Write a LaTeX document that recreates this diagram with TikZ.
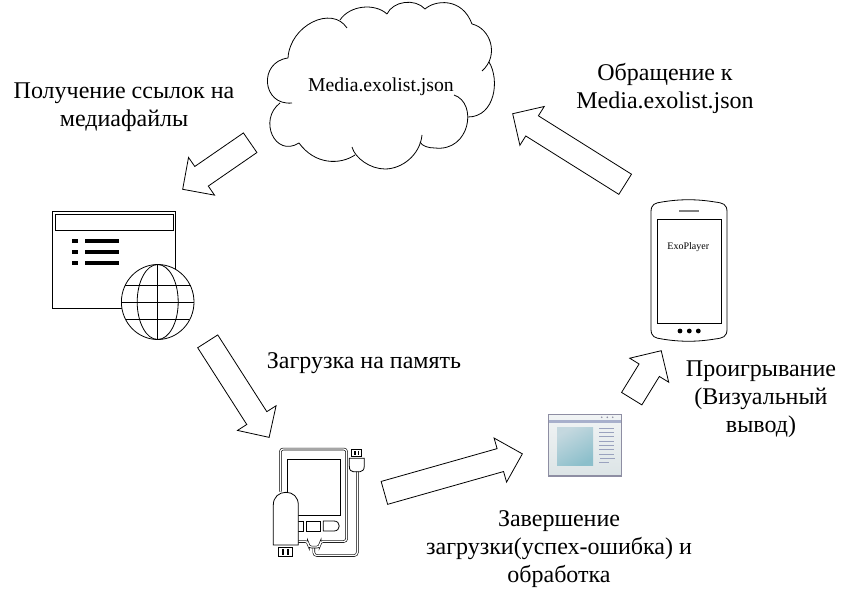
\documentclass[tikz,border=0pt]{standalone}
\usepackage{fontspec}
\setmainfont{Liberation Serif}
\usetikzlibrary{shapes.arrows}
\tikzset{
  blockarrow/.style={draw, fill=white, single arrow, single arrow head extend=11pt, single arrow tip angle=90,
    text height=23pt, text depth=0pt, text width=0pt, inner sep=0pt, anchor=tail, line width=0.8pt},
  caption/.style={align=center, font=\fontsize{24}{28}\selectfont, inner sep=0pt},
  thinline/.style={line width=0.8pt},
  driveline/.style={double, double distance=1.3pt, line width=0.6pt, rounded corners=3pt}
}
\definecolor{winborder}{HTML}{8E8EA3}
\definecolor{winbar}{HTML}{A8B0CC}
\definecolor{wintop}{HTML}{DCE4E6}
\definecolor{winrow}{HTML}{9AA2BE}
\definecolor{paneleft}{HTML}{C4D8DF}
\definecolor{paneright}{HTML}{8CBFCB}
\begin{document}
\begin{tikzpicture}[x=1pt,y=-1pt]
    \useasboundingbox (0,0) rectangle (848,601);

    \draw[thinline] (288,58) .. controls (290,25) and (332,5) .. (347,28);
    \draw[thinline] (340,20) .. controls (350,5) and (375,3) .. (387,14);
    \draw[thinline] (387,14) .. controls (393,1) and (415,-2) .. (425,9);
    \draw[thinline] (425,9) .. controls (435,0) and (462,-3) .. (472,24);
    \draw[thinline] (472,24) .. controls (490,28) and (500,55) .. (482,71);
    \draw[thinline] (489,62) .. controls (500,80) and (495,117) .. (468,117);
    \draw[thinline] (454,95) .. controls (478,103) and (470,152) .. (435,148) .. controls (428,148) and (422,146) .. (420,142);
    \draw[thinline] (422,135) .. controls (420,155) and (402,169) .. (385,169) .. controls (370,169) and (355,158) .. (352,147);
    \draw[thinline] (355,155) .. controls (340,165) and (315,165) .. (299,143);
    \draw[thinline] (299,143) .. controls (275,158) and (258,120) .. (280,103);
    \draw[thinline] (292,103) .. controls (262,106) and (258,62) .. (288,58);
    \node[font=\fontsize{19.7}{24}\selectfont, inner sep=0pt] (cloudtext) at (381,87) {Media.exolist.json};

    \draw[line width=1pt] (52.7,211.7) rectangle (175.7,308.3);
    \draw[thinline] (55.3,214.3) rectangle (173.3,230);
    \foreach \y in {241.3,252,263}{
        \fill (71.7,\y-2) rectangle (77.7,\y+2);
        \fill (85,\y-2) rectangle (119,\y+2);
    }
    \draw[thinline, fill=white] (157.7,302) ellipse [x radius=36.3, y radius=37.5];
    \draw[thinline] (157.7,302) ellipse [x radius=20.5, y radius=37.5];
    \draw[thinline] (157.7,264.5) -- (157.7,339.5);
    \draw[thinline] (125,285.3) -- (190.7,285.3);
    \draw[thinline] (121.4,302) -- (194,302);
    \draw[thinline] (126,319) -- (189,319);

    \draw[driveline] (313.8,546) -- (313.8,555.5) -- (357.3,555.5) -- (357.3,471);
    \draw[driveline] (280.3,491.7) -- (280.3,449) -- (346.7,449) -- (346.7,541.5) -- (320,541.5) -- (320,547) -- (308.3,547) -- (308.3,541.5) -- (296,541.5);
    \draw[thinline] (287.3,459.3) rectangle (340,515);
    \draw[thinline] (296,521) rectangle (303.7,531);
    \draw[thinline] (306.7,521) rectangle (320.7,531);
    \draw[thinline] (323.3,521) -- (334,521) .. controls (341,521) and (341,531) .. (334,531) -- (323.3,531) -- cycle;
    \draw[thinline] (351.7,449.3) rectangle (361,456);
    \fill (354.3,450.7) rectangle (355.7,455);
    \fill (357.7,450.7) rectangle (359,455);
    \draw[thinline, fill=white] (349.3,458.3) -- (364.3,458.3) -- (364.3,466) .. controls (364.3,470) and (362,471.7) .. (360,471.7) -- (353.3,471.7) .. controls (351,471.7) and (349.3,470) .. (349.3,466) -- cycle;
    \draw[thinline, fill=white] (273.3,545) -- (273.3,505) .. controls (273.3,497) and (279,492.3) .. (286,492.3) .. controls (293,492.3) and (298.3,497) .. (298.3,505) -- (298.3,545) -- cycle;
    \draw[thinline] (278.3,547.3) rectangle (292.3,556);
    \fill (281.7,548.7) rectangle (283.5,554.5);
    \fill (287.3,548.7) rectangle (289.1,554.5);

    \shade[top color=wintop!40, bottom color=wintop, draw=winborder, line width=1.2pt] (548.3,414.3) rectangle (621.7,476);
    \fill[winbar] (549,419.5) rectangle (621,422.5);
    \shade[left color=paneleft, right color=paneright, shading angle=30] (557,427.7) rectangle (593,465.7);
    \foreach \y in {428.3,432.3,436.3,441.3,445.3,449.3,454.3}
        \draw[winrow, line width=0.7pt] (599,\y) -- (614,\y);
    \draw[winrow, line width=0.7pt] (600,458.3) -- (615,458.3);
    \draw[winrow, line width=0.7pt] (599,462.3) -- (609,462.3);
    \foreach \x in {601.7,607.3,612.7}
        \fill[winborder] (\x,417.3) circle (0.9);

    \draw[thinline] (651,212) .. controls (651,204) and (655,203) .. (662,202) .. controls (680,199) and (697,199) .. (715,202) .. controls (723,203) and (727,204) .. (727,212) -- (727,329) .. controls (727,337) and (723,338) .. (715,339) .. controls (697,342) and (680,342) .. (662,339) .. controls (655,338) and (651,337) .. (651,329) -- cycle;
    \draw[line width=1pt] (657.3,219.3) rectangle (721,323.3);
    \draw[gray, line width=1.3pt] (679.3,211) -- (699.3,211);
    \foreach \x in {680,689.3,698.3}
        \fill (\x,331) circle (2.4);
    \node[font=\fontsize{10}{12}\selectfont, inner sep=0pt] (playertext) at (688.3,246.7) {ExoPlayer};

    \foreach \tx/\ty/\ang/\len/\name in {250.5/142.5/214.6/82/getlinks, 207.5/341/-57.4/114/loadmem, 384/493/15.8/143.4/finish, 631.5/399/58.4/56.3/play, 625.5/184.5/147.9/132.8/request}
        \node[blockarrow, minimum height=\len, rotate=\ang] (\name) at (\tx,\ty) {};

    \node[caption] (linkstext) at (124,107.5) {Получение ссылок на\\медиафайлы};
    \node[caption] (requesttext) at (665,88) {Обращение к\\Media.exolist.json};
    \node[caption] (memtext) at (364,363) {Загрузка на память};
    \node[caption] (playtext) at (761,399) {Проигрывание\\(Визуальный\\вывод)};
    \node[caption] (finishtext) at (559,549) {Завершение\\загрузки(успех-ошибка) и\\обработка};
\end{tikzpicture}
\end{document}
